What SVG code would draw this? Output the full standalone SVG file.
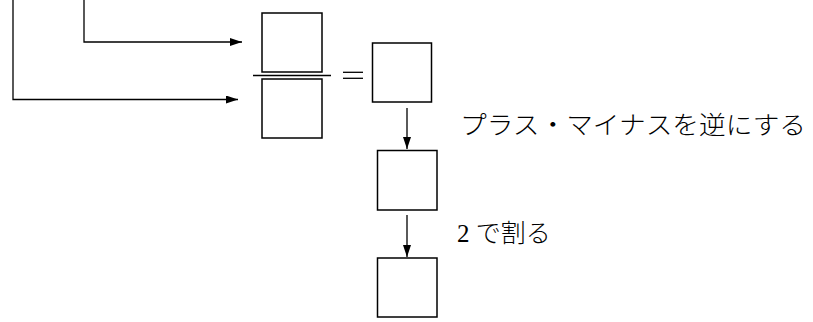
<svg xmlns="http://www.w3.org/2000/svg" width="813" height="322" viewBox="0 0 813 322">
<style>
.box{fill:#fff;stroke:#000;stroke-width:1.5}
.ln{fill:none;stroke:#000;stroke-width:1.3}
.t{font-family:"Liberation Serif","Noto Sans CJK JP",serif;font-size:25px;font-weight:300;fill:#000}
</style>
<defs>
<marker id="ah" markerWidth="12" markerHeight="8" refX="12" refY="4" orient="auto" markerUnits="userSpaceOnUse">
<path d="M0,0 L12,4 L0,8 Z" fill="#000"/>
</marker>
</defs>
<rect width="813" height="322" fill="#fff"/>
<g id="connectors">
<path class="ln" d="M13,-2 V99.5 H238" marker-end="url(#ah)"/>
<path class="ln" d="M84,-2 V42 H242" marker-end="url(#ah)"/>
<path class="ln" d="M407,108 V149" marker-end="url(#ah)"/>
<path class="ln" d="M407,215 V257" marker-end="url(#ah)"/>
</g>
<g id="numerator"><rect class="box" x="262" y="13" width="60" height="59"/></g>
<g id="fraction-bar"><line class="ln" x1="253" y1="75.5" x2="331" y2="75.5"/></g>
<g id="denominator"><rect class="box" x="262" y="79" width="60" height="59"/></g>
<g id="equals"><line class="ln" x1="343" y1="72.3" x2="363" y2="72.3"/><line class="ln" x1="343" y1="78.3" x2="363" y2="78.3"/></g>
<g id="result"><rect class="box" x="372.5" y="43" width="59" height="59"/></g>
<g id="step1-label"><text class="t" x="460" y="134" textLength="346" lengthAdjust="spacingAndGlyphs">プラス・マイナスを逆にする</text></g>
<g id="step1"><rect class="box" x="377.5" y="150.5" width="59.5" height="59.5"/></g>
<g id="step2-label"><text class="t" x="457" y="242">2 で割る</text></g>
<g id="step2"><rect class="box" x="377.5" y="258" width="59.5" height="59"/></g>
</svg>
